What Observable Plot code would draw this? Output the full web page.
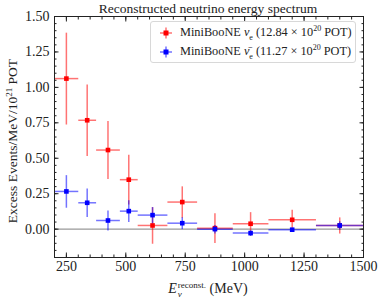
<!DOCTYPE html>
<html><head><meta charset="utf-8">
<script src="https://cdn.jsdelivr.net/npm/d3@7"></script>
<script src="https://cdn.jsdelivr.net/npm/@observablehq/plot@0.6"></script>
<style>
body{margin:0;background:#fff;}
#wrap{position:relative;width:382px;height:299px;font-family:"Liberation Serif",serif;color:#222;overflow:hidden;}
#wrap svg{position:absolute;left:0;top:0;}
.abs{position:absolute;white-space:nowrap;line-height:1;}
#legend{position:absolute;left:150px;top:21px;width:206px;height:42px;border:1px solid #d8d8d8;border-radius:3px;background:rgba(255,255,255,0.85);box-sizing:border-box;font-size:12.3px;}
.row{position:absolute;left:0;height:14px;display:flex;align-items:center;}
.row svg{position:static !important;margin-left:8px;margin-right:7px;}
</style></head><body><div id="wrap"></div>
<script>
// Energy bins (MeV)
const binLo = [200, 300, 375, 475, 550, 675, 800, 950, 1100, 1300];
const binHi = [300, 375, 475, 550, 675, 800, 950, 1100, 1300, 1500];
const binCenter = [250, 337.5, 425, 512.5, 612.5, 737.5, 875, 1025, 1200, 1400];
// Neutrino mode excess
const nuValue = [1.062, 0.768, 0.558, 0.349, 0.026, 0.191, 0.007, 0.038, 0.066, 0.026];
const nuError = [0.324, 0.252, 0.204, 0.176, 0.129, 0.111, 0.105, 0.082, 0.070, 0.057];
// Antineutrino mode excess
const nubarValue = [0.266, 0.186, 0.061, 0.127, 0.099, 0.042, 0.000, -0.028, -0.004, 0.026];
const nubarError = [0.115, 0.100, 0.070, 0.077, 0.057, 0.042, 0.030, 0.020, 0.012, 0.030];
// Ticks
const xTicks = [250, 500, 750, 1000, 1250, 1500];
const xMinorTicks = d3.range(200, 1501, 50);
const yTicks = [0, 0.25, 0.5, 0.75, 1.0, 1.25, 1.5];
const yMinorTicks = d3.range(-0.2, 1.5001, 0.05).map(v => +v.toFixed(2));
// Text
const titleText = "Reconstructed neutrino energy spectrum";
const seriesLabels = [
  "MiniBooNE <i>ν</i><sub style='font-size:8px'>e</sub> (12.84 × 10<sup style='font-size:8px'>20</sup> POT)",
  "MiniBooNE <i>ν̄</i><sub style='font-size:8px'>e</sub> (11.27 × 10<sup style='font-size:8px'>20</sup> POT)"
];
const seriesColors = ["#ff0000", "#0000ff"];

const nu = binCenter.map((c, i) => ({c, lo: binLo[i], hi: binHi[i], v: nuValue[i], e: nuError[i]}));
const nubar = binCenter.map((c, i) => ({c, lo: binLo[i], hi: binHi[i], v: nubarValue[i], e: nubarError[i]}));

function errMarks(data, color) {
  return [
    Plot.link(data, {x1: "lo", x2: "hi", y1: "v", y2: "v", stroke: color, strokeOpacity: 0.55, strokeWidth: 1.5}),
    Plot.link(data, {x1: "c", x2: "c", y1: d => d.v - d.e, y2: d => d.v + d.e, stroke: color, strokeOpacity: 0.55, strokeWidth: 1.5}),
    Plot.dot(data, {x: "c", y: "v", symbol: "square", r: 2.6, fill: color, stroke: "none"})
  ];
}

const chart = Plot.plot({
  width: 382, height: 299,
  marginLeft: 54, marginRight: 19, marginTop: 16, marginBottom: 42,
  x: {domain: [200, 1500]},
  y: {domain: [-0.2, 1.5]},
  style: {fontFamily: "'Liberation Serif', serif", fontSize: "14px", color: "#222", background: "transparent"},
  marks: [
    Plot.ruleY([0], {stroke: "#999", strokeWidth: 1.3}),
    ...errMarks(nu, seriesColors[0]),
    ...errMarks(nubar, seriesColors[1]),
    Plot.frame({stroke: "#222", strokeWidth: 1}),
    Plot.axisX({ticks: xTicks, tickSize: 0, tickPadding: 4, label: null, tickFormat: d3.format("d")}),
    Plot.axisX({ticks: xTicks, tickSize: -4.5, fill: "none", label: null, anchor: "bottom"}),
    Plot.axisX({ticks: xTicks, tickSize: -4.5, fill: "none", label: null, anchor: "top"}),
    Plot.axisX({ticks: xMinorTicks, tickSize: -2.5, fill: "none", label: null, anchor: "bottom"}),
    Plot.axisX({ticks: xMinorTicks, tickSize: -2.5, fill: "none", label: null, anchor: "top"}),
    Plot.axisY({ticks: yTicks, tickSize: 0, tickPadding: 5, label: null, tickFormat: d3.format(".2f")}),
    Plot.axisY({ticks: yTicks, tickSize: -4.5, fill: "none", label: null, anchor: "left"}),
    Plot.axisY({ticks: yTicks, tickSize: -4.5, fill: "none", label: null, anchor: "right"}),
    Plot.axisY({ticks: yMinorTicks, tickSize: -2.5, fill: "none", label: null, anchor: "left"}),
    Plot.axisY({ticks: yMinorTicks, tickSize: -2.5, fill: "none", label: null, anchor: "right"})
  ]
});

const wrap = document.getElementById("wrap");
wrap.appendChild(chart);

function add(html, style, cls) {
  const el = document.createElement("div");
  el.className = cls || "abs";
  el.innerHTML = html;
  Object.assign(el.style, style);
  wrap.appendChild(el);
  return el;
}
// title
add(titleText, {left: "208px", top: "2px", transform: "translateX(-50%)", fontSize: "13.5px"});
// y label
add("Excess Events/MeV/10<sup style='font-size:9px'>21</sup> POT",
  {left: "12px", top: "141px", transform: "translate(-50%,-50%) rotate(-90deg)", fontSize: "13.5px"});
// x label
add("<i>E</i><span style='display:inline-block;vertical-align:-4px;font-size:9px;line-height:0.95;margin-left:1px'><span style='display:block'>reconst.</span><span style='display:block'><i>ν</i></span></span> (MeV)",
  {left: "208px", top: "281px", transform: "translateX(-50%)", fontSize: "14px"});
// legend
const legend = add("", {}, "");
legend.id = "legend";
seriesLabels.forEach((lab, i) => {
  const row = document.createElement("div");
  row.className = "row";
  row.style.top = (i === 0 ? 4 : 23) + "px";
  const c = seriesColors[i];
  row.innerHTML = `<svg width="14" height="12"><line x1="1" x2="13" y1="6" y2="6" stroke="${c}" stroke-opacity="0.55" stroke-width="1.5"/><line x1="7" x2="7" y1="0.5" y2="11.5" stroke="${c}" stroke-opacity="0.55" stroke-width="1.5"/><rect x="4.5" y="3.5" width="5" height="5" fill="${c}"/></svg><span>${lab}</span>`;
  legend.appendChild(row);
});
</script></body></html>
